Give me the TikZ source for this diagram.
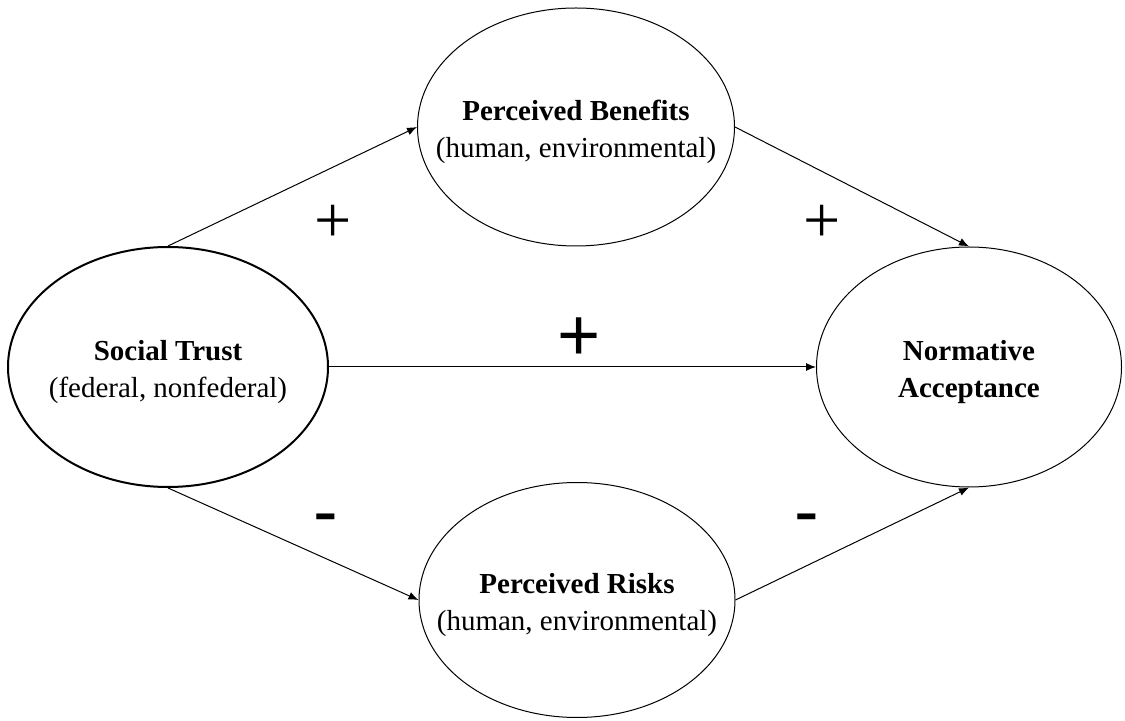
\documentclass[tikz,border=0pt]{standalone}
\usepackage{fontspec}
\setmainfont{Liberation Serif}
\newfontfamily\signfont{Liberation Sans}
\usetikzlibrary{shapes.geometric,arrows.meta}

\begin{document}
\begin{tikzpicture}[x=0.5pt,y=-0.5pt]
            \tikzset{
                construct/.style={ellipse,draw,line width=0.5pt,inner xsep=-20pt,inner ysep=0pt,
                    align=center,font=\fontsize{14.5}{18.5}\selectfont,
                    text height=34pt,text depth=3pt},
                link/.style={-{Latex[length=5pt,width=4pt]},line width=0.5pt},
                smallsign/.style={inner sep=0pt,font=\fontsize{33}{33}\selectfont},
                bigsign/.style={inner sep=0pt,font=\signfont\fontsize{37}{37}\selectfont}
            }
            \useasboundingbox (0,0) rectangle (1125,721);

            \node[construct,line width=1pt,minimum width=160pt,minimum height=120pt]
                (trust) at (168,367) {\textbf{Social Trust}\\(federal, nonfederal)};
            \node[construct,minimum width=158.5pt,minimum height=119pt]
                (benefits) at (576,127) {\textbf{Perceived Benefits}\\(human, environmental)};
            \node[construct,minimum width=158pt,minimum height=117.5pt]
                (risks) at (577,600) {\textbf{Perceived Risks}\\(human, environmental)};
            \node[construct,minimum width=152.5pt,minimum height=120pt]
                (accept) at (969,367) {\textbf{Normative}\\\textbf{Acceptance}};

            \draw[link] (trust.north) -- (benefits.west);
            \draw[link] (benefits.east) -- (accept.north);
            \draw[link] (trust.east) -- (accept.west);
            \draw[link] (trust.south) -- (risks.west);
            \draw[link] (risks.east) -- (accept.south);

            % signs of the effects
            \node[smallsign] (plus1) at (333,224) {+};
            \node[smallsign] (plus2) at (822,224) {+};
            \node[bigsign] (plus3) at (579,339) {+};
            \node[bigsign] (minus1) at (326,525) {-};
            \node[bigsign] (minus2) at (807,525) {-};
\end{tikzpicture}
\end{document}
